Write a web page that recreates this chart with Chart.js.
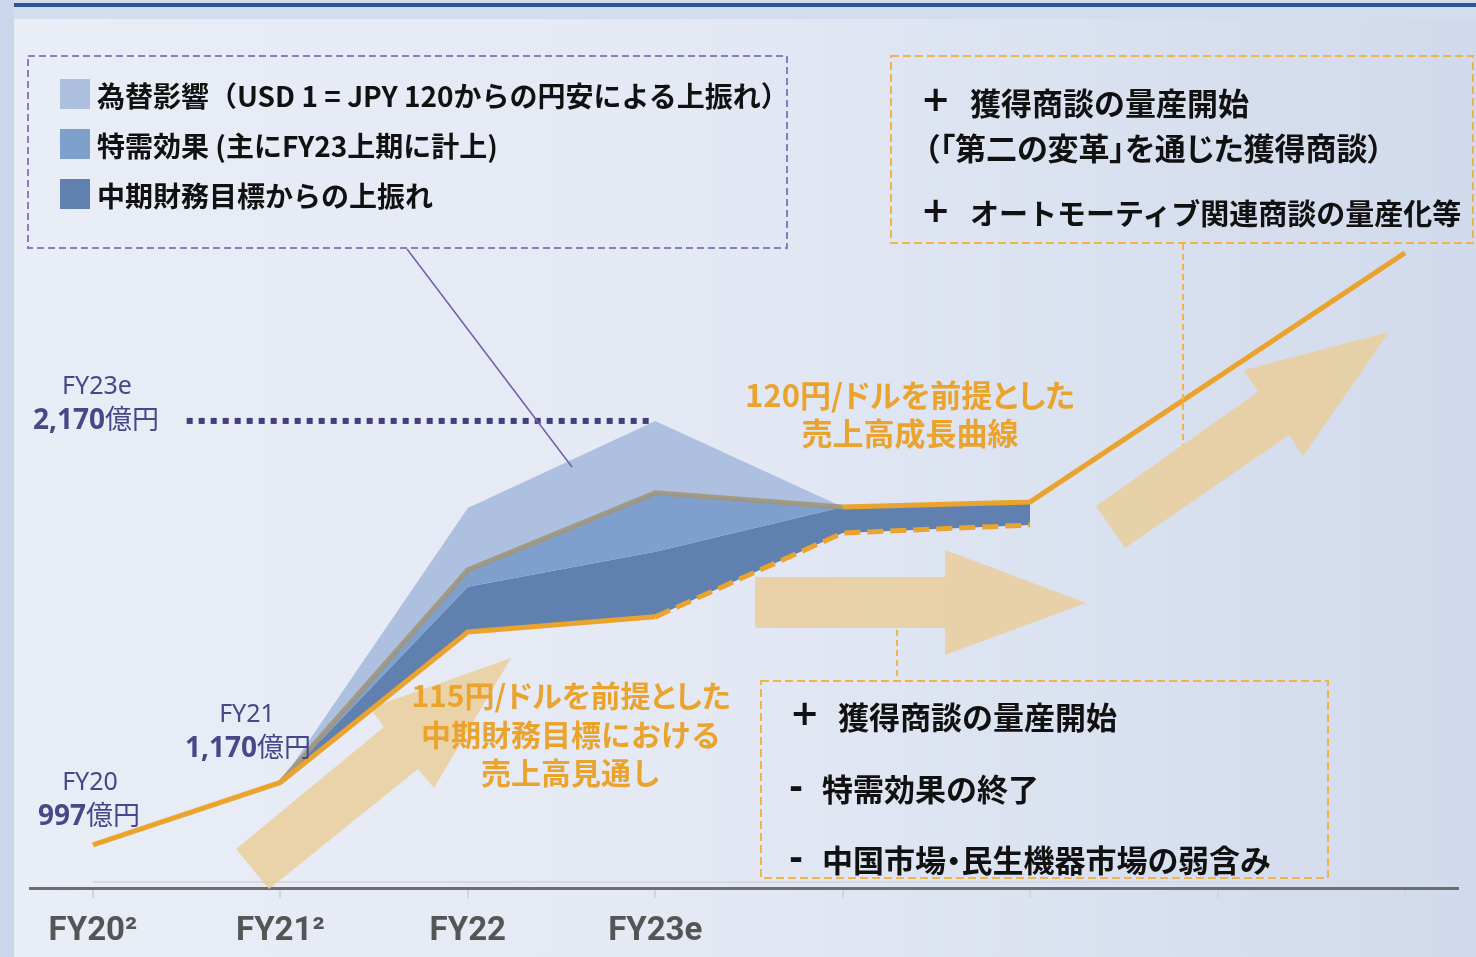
<!DOCTYPE html>
<html lang="ja">
<head>
<meta charset="utf-8">
<script src="https://cdn.jsdelivr.net/npm/chart.js@4.4.0/dist/chart.umd.min.js"></script>
<style>
  body { margin: 0; }
  #wrap { position: relative; width: 1476px; height: 957px; overflow: hidden; background: #c9d6ec; }
  #panel { position: absolute; left: 14px; top: 19px; right: 0; bottom: 0;
           background: linear-gradient(to right, #e9edf6 0%, #e4e9f4 45%, #d1daec 100%); }
  #band { position: absolute; left: 14px; top: 0; right: 0; height: 19px; background: #d4ddee; }
  #navy { position: absolute; left: 14px; top: 3px; right: 0; height: 4px; background: #2f5597; }
  canvas { position: absolute; left: 0; top: 0; }
  .t { position: absolute; white-space: nowrap; line-height: 1; transform: translateY(-50%);
       font-family: 'Noto Sans CJK JP', 'Noto Sans', sans-serif; }
  .c { transform: translate(-50%, -50%); text-align: center; }
  .blk { font-weight: 700; color: #111; }
  .sym { font-family: 'DejaVu Sans', sans-serif; font-weight: 700; color: #111; }
  .org { font-weight: 700; color: #eaa42e; }
  .p { font-feature-settings: "palt"; }
  .val { color: #4b4687; }
  .lat { font-family: 'Noto Sans', sans-serif; }
  .sq { position: absolute; width: 30px; height: 30px; }
</style>
</head>
<body>
<div id="wrap">
  <div id="panel"></div>
  <div id="band"></div>
  <div id="navy"></div>
  <canvas id="myChart" width="1476" height="957"></canvas>

  <!-- legend box -->
  <div class="sq" style="left:60px;top:79px;background:#adc0e0"></div>
  <div class="sq" style="left:60px;top:129px;background:#7f9fcd"></div>
  <div class="sq" style="left:60px;top:179px;background:#6080b0"></div>
  <div class="t blk" style="left:97px;top:95px;font-size:28px">為替影響（USD 1 = JPY 120からの円安による上振れ）</div>
  <div class="t blk" style="left:97px;top:145px;font-size:28px">特需効果 (主にFY23上期に計上)</div>
  <div class="t blk" style="left:97px;top:195px;font-size:28px">中期財務目標からの上振れ</div>

  <!-- top right box -->
  <div class="t sym" style="left:921px;top:99px;font-size:35px">+</div>
  <div class="t blk" style="left:970px;top:101px;font-size:31px">獲得商談の量産開始</div>
  <div class="t blk p" style="left:924px;top:146px;font-size:31px">（「第二の変革」を通じた獲得商談）</div>
  <div class="t sym" style="left:921px;top:210px;font-size:35px">+</div>
  <div class="t blk" style="left:970px;top:212px;font-size:29px">オートモーティブ関連商談の量産化等</div>

  <!-- bottom right box -->
  <div class="t sym" style="left:790px;top:713px;font-size:35px">+</div>
  <div class="t blk" style="left:838px;top:715px;font-size:31px">獲得商談の量産開始</div>
  <div class="t sym" style="left:789px;top:786px;font-size:34px">-</div>
  <div class="t blk" style="left:822px;top:787px;font-size:31px">特需効果の終了</div>
  <div class="t sym" style="left:789px;top:857px;font-size:34px">-</div>
  <div class="t blk p" style="left:822px;top:858px;font-size:31px">中国市場・民生機器市場の弱含み</div>

  <!-- orange labels -->
  <div class="t c org" style="left:910px;top:413px;line-height:38px;font-size:31px"><span class="p">120円/ドルを前提とした</span><br>売上高成長曲線</div>
  <div class="t c org" style="left:571px;top:733px;line-height:38.5px;font-size:30px"><span class="p">115円/ドルを前提とした</span><br>中期財務目標における<br>売上高見通し</div>

  <!-- value labels -->
  <div class="t c val lat" style="left:97px;top:384px;font-size:25px">FY23e</div>
  <div class="t val" style="left:33px;top:418px;font-size:27px"><b class="lat" style="font-size:28px">2,170</b>億円</div>
  <div class="t c val lat" style="left:247px;top:712px;font-size:25px">FY21</div>
  <div class="t val" style="left:185px;top:746px;font-size:27px"><b class="lat" style="font-size:28px">1,170</b>億円</div>
  <div class="t c val lat" style="left:90px;top:780px;font-size:25px">FY20</div>
  <div class="t val" style="left:38px;top:814px;font-size:27px"><b class="lat" style="font-size:28px">997</b>億円</div>
</div>

<script>
// x positions 0..7, only the first four are labelled
const categories = ['FY20²', 'FY21²', 'FY22', 'FY23e', '', '', '', ''];

// 億円
const midTermPlan   = [997, 1170, 1586, 1628, 1860, 1882];      // 115円/ドル 中期財務目標
const planUpside    = [null, 1170, 1711, 1808, 1932, 1946];     // 中期財務目標からの上振れ
const specialDemand = [null, 1170, 1758, 1971, 1932];           // 特需効果
const fxImpact      = [null, 1170, 1929, 2170, 1932];           // 為替影響
const growthCurve   = [null, null, null, null, 1932, 1946, null, 2635]; // 120円/ドル 成長曲線
const fy23Target = 2170;
const targetSpan = [0.5, 2.97];

const toPoints = arr => arr.map((v, i) => ({ x: i, y: v })).filter(p => p.y !== null);

const ORANGE = '#eaa42e';

function polygon(ctx, pts) {
    ctx.beginPath();
    ctx.moveTo(pts[0][0], pts[0][1]);
    for (let i = 1; i < pts.length; i++) ctx.lineTo(pts[i][0], pts[i][1]);
    ctx.closePath();
    ctx.fill();
}

function dashedRect(ctx, x, y, w, h, color, dash) {
    ctx.save();
    ctx.strokeStyle = color;
    ctx.lineWidth = 2;
    ctx.setLineDash(dash);
    ctx.strokeRect(x, y, w, h);
    ctx.restore();
}

function line(ctx, x1, y1, x2, y2, color, width, dash) {
    ctx.save();
    ctx.strokeStyle = color;
    ctx.lineWidth = width;
    ctx.setLineDash(dash || []);
    ctx.beginPath();
    ctx.moveTo(x1, y1);
    ctx.lineTo(x2, y2);
    ctx.stroke();
    ctx.restore();
}

const decorPlugin = {
    id: 'decor',
    beforeDatasetsDraw(chart) {
        const ctx = chart.ctx;
        const xs = chart.scales.x;
        const bottom = chart.chartArea.bottom;
        // faint bracket line above the axis
        line(ctx, xs.getPixelForValue(0), bottom - 6, chart.chartArea.right, bottom - 6, '#d6d9df', 2);
        ctx.save();
        ctx.fillStyle = 'rgba(234, 205, 152, 0.82)';
        // big arrows
        polygon(ctx, [[236, 849], [384, 727], [370, 708], [511, 658], [434, 788], [418, 769], [269, 889]]);
        polygon(ctx, [[755, 577], [945, 577], [945, 550], [1086, 603], [945, 655], [945, 628], [755, 628]]);
        polygon(ctx, [[1096, 506], [1258, 392], [1244, 370], [1389, 332], [1303, 456], [1289, 435], [1125, 548]]);
        ctx.restore();
    },
    afterDraw(chart) {
        const ctx = chart.ctx;
        // note boxes and connectors
        dashedRect(ctx, 28, 56, 759, 192, 'rgba(128, 112, 190, 0.9)', [7, 4]);
        line(ctx, 407, 249, 572, 467, '#6d5fae', 1.5);
        dashedRect(ctx, 891, 56, 582, 187, '#f2b447', [8, 4]);
        line(ctx, 1183, 244, 1183, 445, '#f2b447', 2, [6, 4]);
        dashedRect(ctx, 761, 681, 567, 197, '#f2b447', [8, 4]);
        line(ctx, 897, 630, 897, 680, '#f2b447', 2, [6, 4]);
    }
};

function myLoadFunction() {
    const ctx = document.getElementById('myChart').getContext('2d');
    var myChartConfig = {
        type: 'line',
        data: {
            datasets: [
            {
                // fill base only, the visible line is drawn by the last dataset
                label: '中期財務目標 (base)',
                data: toPoints(midTermPlan),
                borderWidth: 0,
                borderColor: 'rgba(0,0,0,0)',
                fill: false,
                order: 6
            },
            {
                label: '中期財務目標からの上振れ',
                data: toPoints(planUpside),
                borderWidth: 0,
                borderColor: 'rgba(0,0,0,0)',
                backgroundColor: '#6080b0',
                fill: '-1',
                order: 3
            },
            {
                label: '特需効果',
                data: toPoints(specialDemand),
                borderColor: 'rgba(160, 150, 125, 0.9)',
                borderWidth: 5,
                backgroundColor: '#7f9fcd',
                fill: '-1',
                order: 2
            },
            {
                label: '為替影響',
                data: toPoints(fxImpact),
                borderWidth: 0,
                borderColor: 'rgba(0,0,0,0)',
                backgroundColor: '#adc0e0',
                fill: '-1',
                order: 4
            },
            {
                label: '売上高成長曲線',
                data: toPoints(growthCurve),
                borderColor: ORANGE,
                borderWidth: 5,
                fill: false,
                order: 1
            },
            {
                label: 'FY23e',
                data: targetSpan.map(x => ({ x: x, y: fy23Target })),
                borderColor: '#433d80',
                borderWidth: 6,
                borderDash: [6, 6],
                borderCapStyle: 'butt',
                fill: false,
                order: 5
            },
            {
                label: '中期財務目標',
                data: toPoints(midTermPlan),
                borderColor: ORANGE,
                borderWidth: 5,
                fill: false,
                order: 0,
                segment: {
                    borderDash: c => c.p0.parsed.x >= 3 ? [16, 7] : undefined
                }
            }
        ]
        },
        options: {
            responsive: false,
            animation: false,
            layout: { padding: { left: 30, right: 18, top: 20, bottom: 0 } },
            elements: { point: { radius: 0 }, line: { tension: 0 } },
            plugins: { legend: { display: false }, tooltip: { enabled: false } },
            scales: {
                x: {
                    type: 'linear',
                    min: -0.336,
                    max: 7.283,
                    afterBuildTicks: axis => { axis.ticks = categories.map((_, i) => ({ value: i })); },
                    afterFit: axis => { axis.height = 69; },
                    ticks: {
                        callback: v => categories[v] ?? '',
                        color: '#555555',
                        padding: 17,
                        maxRotation: 0,
                        autoSkip: false,
                        font: { family: "'Liberation Sans Narrow', 'Roboto', sans-serif", size: 33, weight: 'bold', lineHeight: 1 }
                    },
                    grid: { drawOnChartArea: false, tickLength: 10, color: '#d2d5dc', lineWidth: 2 },
                    border: { color: '#6e6e6e', width: 3 }
                },
                y: {
                    display: false,
                    min: 878,
                    max: 3279
                }
            }
        },
        plugins: [decorPlugin]
    };
    const myChart = new Chart(ctx, myChartConfig);
}

document.addEventListener('DOMContentLoaded', myLoadFunction);
</script>
</body>
</html>
